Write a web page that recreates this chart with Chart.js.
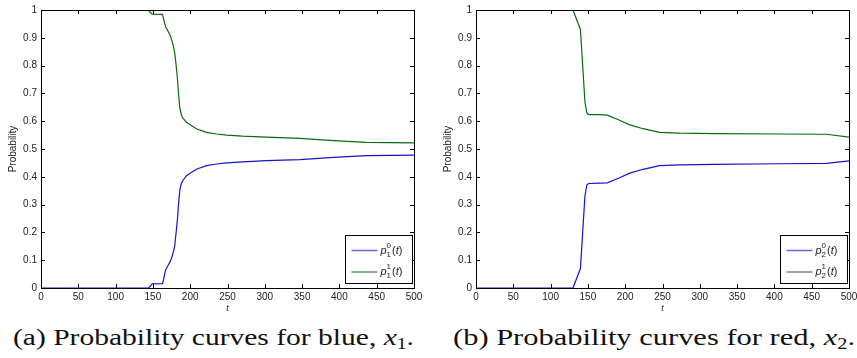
<!DOCTYPE html>
<html>
<head>
<meta charset="utf-8">
<script src="https://cdn.jsdelivr.net/npm/chart.js@4.4.0/dist/chart.umd.min.js"></script>
<style>
  html,body{margin:0;padding:0;background:#fff;width:857px;height:358px;overflow:hidden;position:relative}
  canvas{position:absolute;top:0}
  #cA{left:0}
  #cB{left:435px}
  .cap{position:absolute;top:322px;font-family:'Liberation Serif','Times New Roman',Times,serif;font-size:24px;line-height:30px;white-space:nowrap;color:#111;transform-origin:0 0}
  .cap sub{font-size:16px;vertical-align:-4px;line-height:0;font-style:normal}
</style>
</head>
<body>
<canvas id="cA" width="428" height="315"></canvas>
<canvas id="cB" width="430" height="315"></canvas>
<div class="cap" id="capA">(a) Probability curves for blue, <i>x</i><sub>1</sub>.</div>
<div class="cap" id="capB">(b) Probability curves for red, <i>x</i><sub>2</sub>.</div>
<script>
// (a) blue, x1
const tA     = [0, 144, 147, 149, 163, 165, 167, 170, 173, 176, 179, 181, 183, 184, 186, 188, 190, 195, 202, 209, 222, 235, 249, 270, 302, 347, 392, 436, 470, 500];
const blueA  = [0, 0, 0.008, 0.015, 0.016, 0.04, 0.064, 0.08, 0.094, 0.115, 0.148, 0.196, 0.25, 0.29, 0.35, 0.375, 0.386, 0.404, 0.416, 0.428, 0.44, 0.446, 0.45, 0.454, 0.458, 0.462, 0.47, 0.476, 0.477, 0.478];
const greenA = [1, 1, 0.99, 0.985, 0.984, 0.96, 0.94, 0.925, 0.91, 0.885, 0.85, 0.805, 0.75, 0.71, 0.65, 0.625, 0.612, 0.596, 0.584, 0.572, 0.56, 0.554, 0.55, 0.546, 0.543, 0.538, 0.53, 0.524, 0.523, 0.522];
// (b) red, x2
const tB     = [0, 130, 140, 143, 146, 148.5, 151, 165, 176, 191, 206, 224, 246, 273, 320, 407, 470, 500];
const blueB  = [0, 0, 0.07, 0.2, 0.33, 0.37, 0.376, 0.377, 0.378, 0.395, 0.413, 0.427, 0.44, 0.443, 0.445, 0.447, 0.448, 0.457];
const greenB = [1, 1, 0.93, 0.8, 0.67, 0.63, 0.624, 0.624, 0.622, 0.605, 0.587, 0.573, 0.56, 0.557, 0.555, 0.554, 0.553, 0.543];

const xTicks = [0, 50, 100, 150, 200, 250, 300, 350, 400, 450, 500];
const yTicks = [0, 0.1, 0.2, 0.3, 0.4, 0.5, 0.6, 0.7, 0.8, 0.9, 1];

const BLUE = '#1414c8', GREEN = '#0b6a0b';
const SANS = "'Liberation Sans', Arial, Helvetica, sans-serif";
const tickFont = {family:SANS, size:10};

// matlab style box + inward ticks on all four sides
const boxTicks = {
  id:'boxTicks',
  afterDatasetsDraw(chart){
    const {ctx, chartArea:a, scales:{x, y}} = chart;
    ctx.save();
    ctx.strokeStyle = '#000'; ctx.lineWidth = 1;
    ctx.beginPath();
    xTicks.forEach(v => { const px = Math.round(x.getPixelForValue(v)) + 0.5;
      ctx.moveTo(px, a.bottom); ctx.lineTo(px, a.bottom - 4);
      ctx.moveTo(px, a.top); ctx.lineTo(px, a.top + 4); });
    yTicks.forEach(v => { const py = Math.round(y.getPixelForValue(v)) + 0.5;
      ctx.moveTo(a.left, py); ctx.lineTo(a.left + 4, py);
      ctx.moveTo(a.right, py); ctx.lineTo(a.right - 4, py); });
    ctx.stroke();
    ctx.strokeRect(Math.round(a.left) + 0.5, Math.round(a.top) + 0.5, Math.round(a.right - a.left), Math.round(a.bottom - a.top));
    ctx.restore();
  }
};

// legend with p_i^k(t) drawn by hand
const texLegend = {
  id:'texLegend',
  afterDraw(chart, args, opts){
    const {ctx, chartArea:a} = chart;
    const r = Math.round(a.right) - 1.5, b = Math.round(a.bottom) - 4.5;
    const w = 67, h = 48;
    ctx.save();
    ctx.fillStyle = '#fff';
    ctx.fillRect(r - w, b - h, w, h);
    ctx.strokeStyle = '#000'; ctx.lineWidth = 1;
    ctx.strokeRect(r - w, b - h, w, h);
    chart.data.datasets.forEach((ds, i) => {
      const cy = b - 33 + i * 21.5;
      ctx.strokeStyle = ds.borderColor; ctx.globalAlpha = 0.65; ctx.lineWidth = 1.5;
      ctx.beginPath(); ctx.moveTo(r - w + 6, cy); ctx.lineTo(r - w + 32, cy); ctx.stroke();
      ctx.globalAlpha = 1;
      ctx.fillStyle = '#222'; ctx.textBaseline = 'alphabetic';
      let tx = r - w + 35;
      ctx.font = 'italic 11px ' + SANS;
      ctx.fillText('p', tx, cy + 3); tx += ctx.measureText('p').width;
      ctx.font = '8px ' + SANS;
      ctx.fillText(String(i), tx, cy - 3);
      ctx.fillText(opts.sub, tx, cy + 6);
      tx += ctx.measureText('0').width + 1;
      ctx.font = '11px ' + SANS;
      ctx.fillText('(', tx, cy + 3); tx += ctx.measureText('(').width;
      ctx.font = 'italic 11px ' + SANS;
      ctx.fillText('t', tx, cy + 3); tx += ctx.measureText('t').width;
      ctx.font = '11px ' + SANS;
      ctx.fillText(')', tx, cy + 3);
    });
    ctx.restore();
  }
};

function makeChart(id, t, blue, green, sub, rightPad){
  return new Chart(document.getElementById(id), {
    type:'line',
    data:{ datasets:[
      { data:t.map((v,i)=>({x:v, y:blue[i]})), borderColor:BLUE, borderWidth:1.2, pointRadius:0, tension:0 },
      { data:t.map((v,i)=>({x:v, y:green[i]})), borderColor:GREEN, borderWidth:1.2, pointRadius:0, tension:0 }
    ]},
    options:{
      responsive:false, animation:false, events:[],
      layout:{ padding:{left:0, top:8, right:rightPad, bottom:0} },
      plugins:{ legend:{display:false}, tooltip:{enabled:false}, texLegend:{sub} },
      scales:{
        x:{ type:'linear', min:0, max:500,
          afterBuildTicks: s => { s.ticks = xTicks.map(v=>({value:v})); },
          afterFit: s => { s.height = 27; },
          grid:{display:false, drawTicks:false}, border:{display:false},
          ticks:{color:'#222', font:tickFont, padding:3, maxRotation:0, autoSkip:false},
          title:{display:true, text:'t', color:'#222', padding:{top:0, bottom:1},
            font:{family:SANS, size:9, style:'italic'}} },
        y:{ min:0, max:1,
          afterBuildTicks: s => { s.ticks = yTicks.map(v=>({value:v})); },
          afterFit: s => { s.width = 41; },
          grid:{display:false, drawTicks:false}, border:{display:false},
          ticks:{color:'#222', font:tickFont, padding:4, autoSkip:false, callback:v=>String(v)},
          title:{display:true, text:'Probability', color:'#222', padding:{top:7, bottom:0},
            font:{family:SANS, size:10}} }
      }
    },
    plugins:[boxTicks, texLegend]
  });
}

makeChart('cA', tA, blueA, greenA, '1', 14);
makeChart('cB', tB, blueB, greenB, '2', 16);

// fit captions to the reference widths
function fitCap(id, left, width){
  const el = document.getElementById(id);
  el.style.left = left + 'px';
  const w = el.getBoundingClientRect().width;
  el.style.transform = 'scaleX(' + (width / w) + ')';
}
fitCap('capA', 13, 401);
fitCap('capB', 453, 402);
</script>
</body>
</html>
